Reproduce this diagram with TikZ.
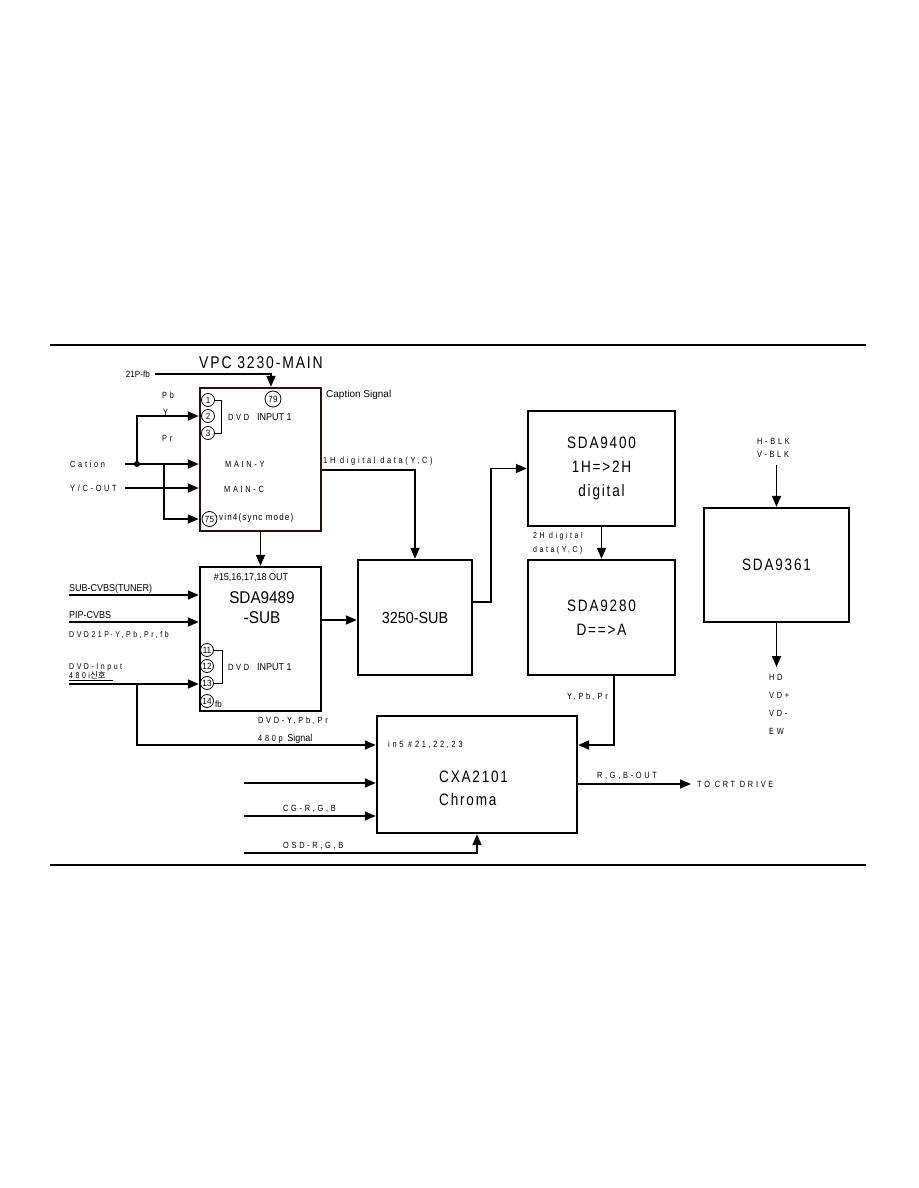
\documentclass[tikz,border=0pt]{standalone}
\usepackage{fontspec}
\setmainfont{Liberation Sans}
\newfontfamily\cond[FakeStretch=0.9]{Liberation Sans}
\newfontfamily\spc[FakeStretch=0.82,LetterSpace=30]{Liberation Sans}
\newfontfamily\msp[FakeStretch=0.85,LetterSpace=12]{Liberation Sans}
\newfontfamily\bsp[FakeStretch=0.82,LetterSpace=11]{Liberation Sans}
\newfontfamily\kr{Noto Sans CJK KR}
\usetikzlibrary{arrows.meta}
\definecolor{maroon}{RGB}{45,12,14}
\tikzset{
  blk/.style={draw, line width=2.4pt, inner sep=0pt, align=center},
  arr/.style={line width=1.8pt, -{Triangle[length=11pt,width=9pt]}},
  thin/.style={line width=0.8pt},
  pin/.style={draw, circle, line width=0.8pt, inner sep=0pt, minimum size=13pt, font=\cond\fontsize{9}{9}\selectfont},
  lbl/.style={inner sep=0pt, anchor=west, font=\spc\fontsize{9}{10}\selectfont},
  clbl/.style={inner sep=0pt, anchor=west, font=\cond\fontsize{10}{11}\selectfont},
  big/.style={font=\bsp\fontsize{16.5}{24}\selectfont},
}
\begin{document}
\begin{tikzpicture}[x=1pt,y=-1pt]
\useasboundingbox (0,0) rectangle (918,1188);
% rules
\draw[line width=1.2pt] (50,345) -- (866,345);
\draw[line width=1.2pt] (50,865) -- (866,865);

% boxes
\node[blk, draw=maroon, minimum width=121pt, minimum height=143pt] (vpc) at (260.5,459.5) {};
\node[blk, minimum width=121pt, minimum height=144pt] (s89) at (260.5,639) {};
\node[blk, minimum width=114pt, minimum height=115pt, font=\cond\fontsize{16}{20}\selectfont] (s3250) at (415,617.5) {3250-SUB};
\node[blk, minimum width=147pt, minimum height=115pt, big] (s94) at (601.5,468.5) {SDA9400\\1H=>2H\\digital};
\node[blk, minimum width=147pt, minimum height=115pt, big] (s92) at (601.5,617.5) {SDA9280\\D==>A};
\node[blk, minimum width=200pt, minimum height=117pt] (cxa) at (477,774.5) {};
\node[blk, minimum width=145pt, minimum height=114pt, big] (s93) at (776.5,565) {SDA9361};

% VPC texts
\node[inner sep=0pt, font=\bsp\fontsize{17}{18}\selectfont] (vtitle) at (261,363) {VPC 3230-MAIN};
\node[pin, minimum size=16pt] (c79) at (273,399) {79};
\node[pin] (c1) at (208,400) {1};
\node[pin] (c2) at (208,416) {2};
\node[pin] (c3) at (208,433) {3};
\draw[thin] (c1.east) -- (221,400) -- (221,433) -- (c3.east);
\node[lbl] (dvd1) at (228,417) {DVD};
\node[clbl] (inp1) at (257,417) {INPUT 1};
\node[lbl] (mainy) at (225,464) {MAIN-Y};
\node[lbl] (mainc) at (224,489) {MAIN-C};
\node[pin, minimum size=15pt] (c75) at (209.5,519) {75};
\node[inner sep=0pt, anchor=west, font=\msp\fontsize{9.5}{10}\selectfont] (vin4) at (219,518) {vin4(sync mode)};
\node[inner sep=0pt, anchor=west, font=\fontsize{10}{11}\selectfont] (capt) at (326,395) {Caption Signal};
\node[lbl] (h1lbl) at (323,461) {1H digital data(Y,C)};

% VPC inputs
\node[inner sep=0pt, anchor=east, font=\cond\fontsize{9}{10}\selectfont] (fbl) at (150,374) {21P-fb};
\coordinate (fbk) at (271,374);
\draw[arr] (fbl.east) ++(5,0) -- (fbk) -- (fbk |- vpc.north);
\node[lbl] (pb) at (162,395) {Pb};
\node[lbl] (ylb) at (163,412) {Y};
\node[lbl] (pr) at (162,438) {Pr};
\node[lbl] (cat) at (70,464) {Cation};
\node[lbl] (ycout) at (70,488) {Y/C-OUT};
\coordinate (catS) at (125,464);
\coordinate (jn) at (137,464);
\coordinate (br) at (164,464);
\coordinate (ycS) at (125,488);
\draw[arr] (catS) -- (vpc.west |- catS);
\draw[arr] (jn) |- (vpc.west |- c2);
\draw[arr] (br) |- (vpc.west |- c75);
\draw[arr] (ycS) -- (vpc.west |- ycS);
\fill (jn) circle (3pt);

% 1H digital data
\coordinate (h1) at (415,470);
\draw[arr] (vpc.east |- h1) -- (h1) -- (s3250.north);
% VPC to SDA9489
\draw[arr] (vpc.south) -- (s89.north);

% SDA9489 texts
\node[inner sep=0pt, font=\cond\fontsize{10}{11}\selectfont] (outs) at (251,578) {\#15,16,17,18 OUT};
\node[inner sep=0pt, font=\cond\fontsize{17}{20}\selectfont, align=center] (s89t) at (262,608) {SDA9489\\-SUB};
\node[pin] (c11) at (207,650) {11};
\node[pin] (c12) at (207,666) {12};
\node[pin] (c13) at (207,683) {13};
\node[pin] (c14) at (207,701) {14};
\node[inner sep=0pt, anchor=west, font=\cond\fontsize{9}{10}\selectfont] (fb14) at (215,704) {fb};
\draw[thin] (c11.east) -- (222,650) -- (222,683) -- (c13.east);
\node[lbl] (dvd2) at (228,667) {DVD};
\node[clbl] (inp2) at (257,667) {INPUT 1};

% SDA9489 inputs
\node[clbl] (subcv) at (69,589) {SUB-CVBS(TUNER)};
\node[clbl] (pipcv) at (69,615) {PIP-CVBS};
\node[lbl, font=\spc\fontsize{8.5}{10}\selectfont] (dvd21) at (69,635) {DVD21P\,-Y,Pb,Pr,fb};
\node[lbl, font=\spc\fontsize{8.5}{10}\selectfont] (dvdin) at (69,667) {DVD-Input};
\node[lbl, font=\spc\fontsize{8.5}{10}\selectfont] (i480) at (69,675.5) {480i{\kr\fontsize{8.5}{10}\selectfont 신호}};
\draw[thin] (69,680) -- (113,680);
\coordinate (scS) at (69,595);
\coordinate (pipS) at (69,622);
\coordinate (dviS) at (69,684);
\coordinate (dvb) at (137,684);
\coordinate (b480) at (137,745);
\draw[arr] (scS) -- (s89.west |- scS);
\draw[arr] (pipS) -- (s89.west |- pipS);
\draw[arr] (dviS) -- (s89.west |- dviS);
\draw[arr] (dvb) -- (b480) -- (cxa.west |- b480);
\node[lbl] (dvdy) at (258,721) {DVD-Y,Pb,Pr};
\node[lbl] (p480) at (258,739) {480p {\cond\fontsize{10}{10}\selectfont Signal}};

% SDA9489 to 3250
\coordinate (m1) at (340,620);
\draw[arr] (s89.east |- m1) -- (s3250.west |- m1);
% 3250 to SDA9400
\coordinate (k1) at (491,602);
\coordinate (k2) at (491,468.5);
\draw[arr] (s3250.east |- k1) -- (k1) -- (k2) -- (s94.west);
% SDA9400 to SDA9280
\draw[arr] (s94.south) -- (s92.north);
\node[lbl, align=left, font=\spc\fontsize{8.5}{14}\selectfont] (h2) at (533,543) {2H digital\\data(Y,C)};
% SDA9280 to CXA
\coordinate (yp) at (614,745);
\draw[arr] (s92.south -| yp) -- (yp) -- (cxa.east |- yp);
\node[lbl, anchor=east] (ypbpr) at (608,697) {Y,Pb,Pr};

% CXA texts
\node[lbl] (in5) at (388,745) {in5 \#21,22,23};
\node[inner sep=0pt, big, align=left, anchor=west, font=\bsp\fontsize{16.5}{23}\selectfont] (cxat) at (439,788.5) {CXA2101\\Chroma};
\coordinate (i1) at (244,783);
\coordinate (i2) at (244,816);
\coordinate (osdS) at (244,853);
\coordinate (osdK) at (477,853);
\draw[arr] (i1) -- (cxa.west |- i1);
\draw[arr] (i2) -- (cxa.west |- i2);
\node[lbl] (cg) at (283,809) {CG-R,G,B};
\draw[arr] (osdS) -- (osdK) -- (cxa.south);
\node[lbl] (osd) at (283,846) {OSD-R,G,B};
\node[lbl] (crt) at (697,784) {TO CRT DRIVE};
\draw[arr] (cxa.east |- crt) -- ([xshift=-6pt]crt.west);
\node[lbl] (rgbo) at (597,776) {R,G,B-OUT};

% SDA9361
\node[lbl, align=left, font=\spc\fontsize{9}{13}\selectfont] (blk) at (757,448) {H-BLK\\V-BLK};
\coordinate (bk) at (776.5,465);
\draw[arr] (bk) -- (s93.north);
\coordinate (hdo) at (776.5,667);
\draw[arr] (s93.south) -- (hdo);
\node[lbl, align=left, font=\spc\fontsize{9}{18}\selectfont] (outs93) at (769,704) {HD\\VD+\\VD-\\EW};
\end{tikzpicture}
\end{document}
